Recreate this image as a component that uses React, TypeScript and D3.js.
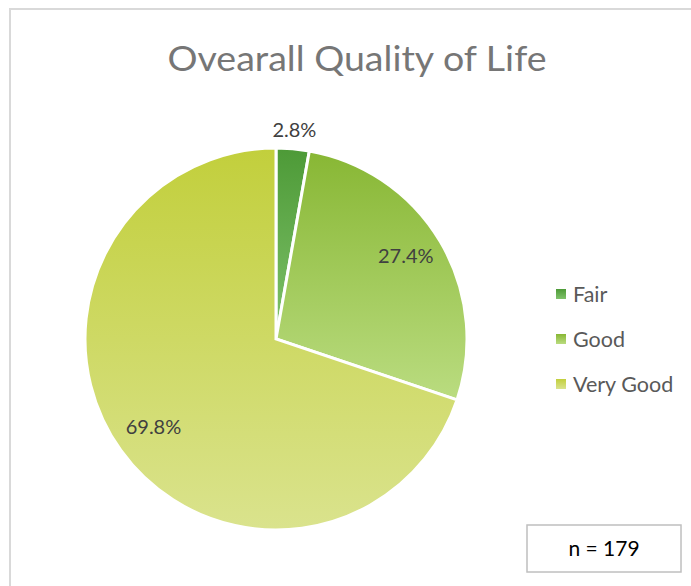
import React, { useEffect, useRef } from "react";
import * as d3 from "d3";

// data
const categories = ["Fair", "Good", "Very Good"];
const counts = [5, 49, 125];
const percentLabels = ["2.8%", "27.4%", "69.8%"];
const sampleSize = 179;

const gradientStops = [
  ["#4d9a37", "#80c26b"],
  ["#88b734", "#badc80"],
  ["#c2cf3c", "#dae38d"],
];

const App = () => {
  const ref = useRef<SVGSVGElement | null>(null);

  useEffect(() => {
    renderPie();
  }, []);

  const renderPie = () => {
    const svg = d3.select(ref.current);
    svg.selectAll("*").remove();

    const width = 691;
    const height = 586;
    const font = "Lato, 'Open Sans', sans-serif";

    // chart area border (only top/left visible)
    svg
      .append("rect")
      .attr("x", 10)
      .attr("y", 9)
      .attr("width", width + 20)
      .attr("height", height + 20)
      .attr("fill", "#fff")
      .attr("stroke", "#d9d9d9")
      .attr("stroke-width", 2);

    // gradients
    const defs = svg.append("defs");
    gradientStops.forEach((stops, i) => {
      const g = defs
        .append("linearGradient")
        .attr("id", `grad-${i}`)
        .attr("x1", 0)
        .attr("y1", 0)
        .attr("x2", 0)
        .attr("y2", 1);
      g.append("stop").attr("offset", "0%").attr("stop-color", stops[0]);
      g.append("stop").attr("offset", "100%").attr("stop-color", stops[1]);
    });

    // title
    svg
      .append("text")
      .attr("x", 357)
      .attr("y", 71)
      .attr("text-anchor", "middle")
      .style("font-family", font)
      .style("font-size", "35px")
      .attr("fill", "#767676")
      .attr("textLength", 379)
      .attr("lengthAdjust", "spacingAndGlyphs")
      .text("Ovearall Quality of Life");

    // pie
    const cx = 276;
    const cy = 339;
    const radius = 191;

    const pie = d3
      .pie<number>()
      .sort(null)
      .value((d) => d);
    const arcs = pie(counts);
    const arc = d3.arc<d3.PieArcDatum<number>>().innerRadius(0).outerRadius(radius);

    const g = svg.append("g").attr("transform", `translate(${cx},${cy})`);

    g.selectAll(".slice")
      .data(arcs)
      .enter()
      .append("path")
      .attr("class", "slice")
      .attr("d", arc)
      .attr("fill", (d, i) => `url(#grad-${i})`)
      .attr("stroke", "#fff")
      .attr("stroke-width", 3)
      .attr("stroke-linejoin", "miter");

    // labels: small slice outside, others inside
    const inner = d3.arc<d3.PieArcDatum<number>>().innerRadius(radius * 0.79).outerRadius(radius * 0.79);
    const outer = d3.arc<d3.PieArcDatum<number>>().innerRadius(radius * 1.1).outerRadius(radius * 1.1);

    g.selectAll(".label")
      .data(arcs)
      .enter()
      .append("text")
      .attr("class", "label")
      .attr("transform", (d, i) => {
        const [x, y] = (i === 0 ? outer : inner).centroid(d);
        return `translate(${x},${i === 1 ? y - 6 : y})`;
      })
      .attr("text-anchor", "middle")
      .attr("dy", "0.35em")
      .style("font-family", font)
      .style("font-size", "20px")
      .attr("fill", "#404040")
      .text((d, i) => percentLabels[i]);

    // legend
    const legend = svg.append("g").attr("transform", "translate(556, 294)");
    categories.forEach((c, i) => {
      legend
        .append("rect")
        .attr("x", 0)
        .attr("y", i * 45 - 5)
        .attr("width", 10)
        .attr("height", 10)
        .attr("fill", `url(#grad-${i})`);
      legend
        .append("text")
        .attr("x", 17)
        .attr("y", i * 45)
        .attr("dy", "0.35em")
        .style("font-family", font)
        .style("font-size", "21.5px")
        .attr("fill", "#595959")
        .text(c);
    });

    // n box
    svg
      .append("rect")
      .attr("x", 527)
      .attr("y", 525)
      .attr("width", 154)
      .attr("height", 47)
      .attr("fill", "#fff")
      .attr("stroke", "#bfbfbf")
      .attr("stroke-width", 1.5);
    svg
      .append("text")
      .attr("x", 604)
      .attr("y", 549)
      .attr("dy", "0.35em")
      .attr("text-anchor", "middle")
      .style("font-family", font)
      .style("font-size", "21px")
      .attr("fill", "#000")
      .text(`n = ${sampleSize}`);
  };

  return (
    <svg
      ref={ref}
      width={691}
      height={586}
      style={{ position: "absolute", left: 0, top: 0, background: "#fff" }}
    />
  );
};

export default App;
